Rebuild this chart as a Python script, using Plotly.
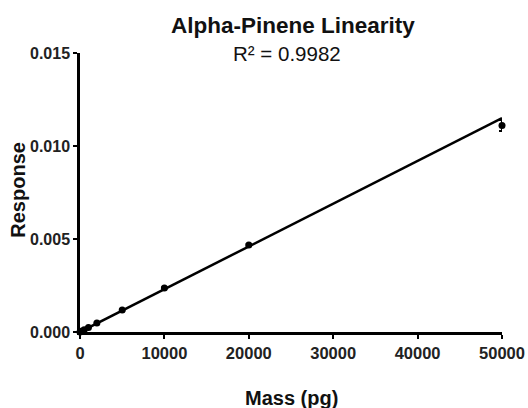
import plotly.graph_objects as go

mass = [0, 250, 500, 1000, 2000, 5000, 10000, 20000, 50000]
response = [0.0, 0.00006, 0.00012, 0.00024, 0.00048, 0.00118, 0.00237, 0.00468, 0.0111]
response_err = [0, 0, 0, 0, 0, 0.00003, 0.00003, 0.00004, 0.00030]
fit_slope = 2.3e-7
fit_intercept = 0.0
fit_x = [0, 50000]
x_ticks = [0, 10000, 20000, 30000, 40000, 50000]
y_ticks = [0.000, 0.005, 0.010, 0.015]

font = "Liberation Sans, Arial, sans-serif"

fig = go.Figure()
fig.add_trace(go.Scatter(
    x=fit_x, y=[fit_intercept + fit_slope * v for v in fit_x],
    mode="lines", line=dict(color="black", width=2.5), hoverinfo="skip", cliponaxis=False))
fig.add_trace(go.Scatter(
    x=mass, y=response, mode="markers",
    marker=dict(color="black", size=7),
    error_y=dict(type="data", array=response_err, color="black", thickness=2, width=3),
    cliponaxis=False))

fig.update_layout(
    width=528, height=408,
    margin=dict(l=80, r=26, t=53, b=76),
    paper_bgcolor="white", plot_bgcolor="white",
    showlegend=False,
    font=dict(family=font, color="black"),
)
fig.add_annotation(text="<b>Alpha-Pinene Linearity</b>", xref="paper", yref="paper",
                   x=0.505, y=1, yshift=28, yanchor="middle", showarrow=False,
                   font=dict(size=22.5, family=font, color="#111"))
fig.add_annotation(text="R² = 0.9982", xref="paper", yref="paper",
                   x=0.49, y=1, yshift=0, yanchor="middle", showarrow=False,
                   font=dict(size=20.5, family=font, color="#111"))
fig.add_annotation(text="<b>Mass (pg)</b>", xref="paper", yref="paper",
                   x=0.50, y=0, yshift=-66, yanchor="middle", showarrow=False,
                   font=dict(size=20, family=font, color="#111"))
fig.add_annotation(text="<b>Response</b>", xref="paper", yref="paper",
                   x=0, xshift=-62, y=0.51, xanchor="center", yanchor="middle", textangle=-90,
                   showarrow=False, font=dict(size=20, family=font, color="#111"))
fig.update_xaxes(range=[0, 50000], tickvals=x_ticks, ticktext=[str(v) for v in x_ticks],
                 showline=True, linecolor="black", linewidth=2.5, ticks="outside",
                 ticklen=4, tickwidth=2, tickcolor="black", showgrid=False, zeroline=False,
                 automargin=False,
                 tickfont=dict(size=16.5, family=font, color="#222", weight="bold"))
fig.update_yaxes(range=[0, 0.015], tickvals=y_ticks, ticktext=[f"{v:.3f}" for v in y_ticks],
                 showline=True, linecolor="black", linewidth=2.5, ticks="outside",
                 ticklen=4, tickwidth=2, tickcolor="black", showgrid=False, zeroline=False,
                 automargin=False,
                 tickfont=dict(size=16, family=font, color="#222", weight="bold"))

fig.write_html("out.html")
